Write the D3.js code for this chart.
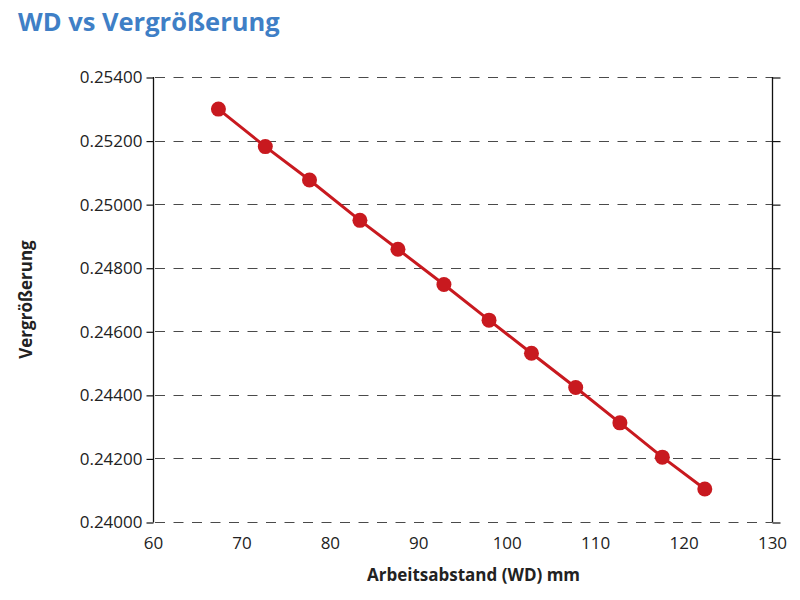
<!DOCTYPE html>
<html>
<head>
<meta charset="utf-8">
<script src="https://cdn.jsdelivr.net/npm/d3@7"></script>
<style>
  html, body { margin: 0; padding: 0; background: #fff; }
  svg { display: block; font-family: "Open Sans", "Noto Sans", sans-serif; }
</style>
</head>
<body>
<svg id="chart" width="800" height="600"></svg>
<script>
const titleText = "WD vs Vergrößerung";
const xTitle = "Arbeitsabstand (WD) mm";
const yTitle = "Vergrößerung";
const wdValues = [67.4, 72.7, 77.7, 83.4, 87.7, 92.9, 98.0, 102.8, 107.8, 112.8, 117.6, 122.4];
const magValues = [0.25299, 0.25181, 0.25076, 0.24949, 0.24858, 0.24747, 0.24635, 0.24531, 0.24423, 0.24312, 0.24204, 0.24104];
const xTicks = [60, 70, 80, 90, 100, 110, 120, 130];
const yTicks = [0.240, 0.242, 0.244, 0.246, 0.248, 0.250, 0.252, 0.254];

(function () {
const svg = d3.select("#chart");
const pLeft = 153, pRight = 772, pTop = 77, pBottom = 522;

const x = d3.scaleLinear().domain([60, 130]).range([pLeft, pRight]);
const y = d3.scaleLinear().domain([0.240, 0.254]).range([pBottom, pTop]);

// title
svg.append("text")
  .attr("x", 18).attr("y", 31)
  .attr("fill", "#3f7fc6")
  .attr("font-size", 25.5).attr("font-weight", 700)
  .text(titleText);

// gridlines
svg.append("g").selectAll("line").data(yTicks).join("line")
  .attr("x1", pLeft + 2).attr("x2", pRight)
  .attr("y1", d => Math.round(y(d)) + 0.5).attr("y2", d => Math.round(y(d)) + 0.5)
  .attr("stroke", "#4a4a4a").attr("stroke-width", 1)
  .attr("stroke-dasharray", "10,8.5");

// left axis
const yAxis = d3.axisLeft(y).tickValues(yTicks).tickFormat(d3.format(".5f")).tickSize(7).tickPadding(4);
const gy = svg.append("g").attr("transform", `translate(${pLeft + 0.5},0.5)`).call(yAxis);
gy.select(".domain").attr("stroke", "#111").attr("stroke-width", 1.3).attr("d", `M0,${pTop - 0.5}V${pBottom}`);
gy.selectAll(".tick line").attr("stroke", "#111").attr("stroke-width", 1.2);
gy.selectAll(".tick text").attr("font-size", 17).attr("fill", "#222").attr("font-family", "Open Sans");

// right axis (no labels)
const yAxisR = d3.axisRight(y).tickValues(yTicks).tickFormat("").tickSize(8);
const gr = svg.append("g").attr("transform", `translate(${pRight + 0.5},0.5)`).call(yAxisR);
gr.select(".domain").attr("stroke", "#111").attr("stroke-width", 1.3).attr("d", `M0,${pTop - 0.5}V${pBottom}`);
gr.selectAll(".tick line").attr("stroke", "#111").attr("stroke-width", 1.2);

// x axis labels only
const xAxis = d3.axisBottom(x).tickValues(xTicks).tickSize(0).tickPadding(15);
const gx = svg.append("g").attr("transform", `translate(0,${pBottom})`).call(xAxis);
gx.select(".domain").remove();
gx.selectAll(".tick text").attr("font-size", 17).attr("fill", "#222").attr("font-family", "Open Sans");

// axis titles
svg.append("text")
  .attr("x", (pLeft + pRight) / 2 + 11).attr("y", 581)
  .attr("text-anchor", "middle")
  .attr("font-size", 17).attr("font-weight", 700).attr("fill", "#222")
  .text(xTitle);

svg.append("text")
  .attr("transform", `translate(32,${(pTop + pBottom) / 2}) rotate(-90)`)
  .attr("text-anchor", "middle")
  .attr("font-size", 17).attr("font-weight", 700).attr("fill", "#222")
  .text(yTitle);

// line
const data = wdValues.map((v, i) => ({x: v, y: magValues[i]}));
svg.append("path")
  .datum(data)
  .attr("fill", "none")
  .attr("stroke", "#c8191f")
  .attr("stroke-width", 3)
  .attr("d", d3.line().x(d => x(d.x)).y(d => y(d.y)));

svg.append("g").selectAll("circle").data(data).join("circle")
  .attr("cx", d => x(d.x)).attr("cy", d => y(d.y))
  .attr("r", 7.5)
  .attr("fill", "#c8191f");
})();
</script>
</body>
</html>
